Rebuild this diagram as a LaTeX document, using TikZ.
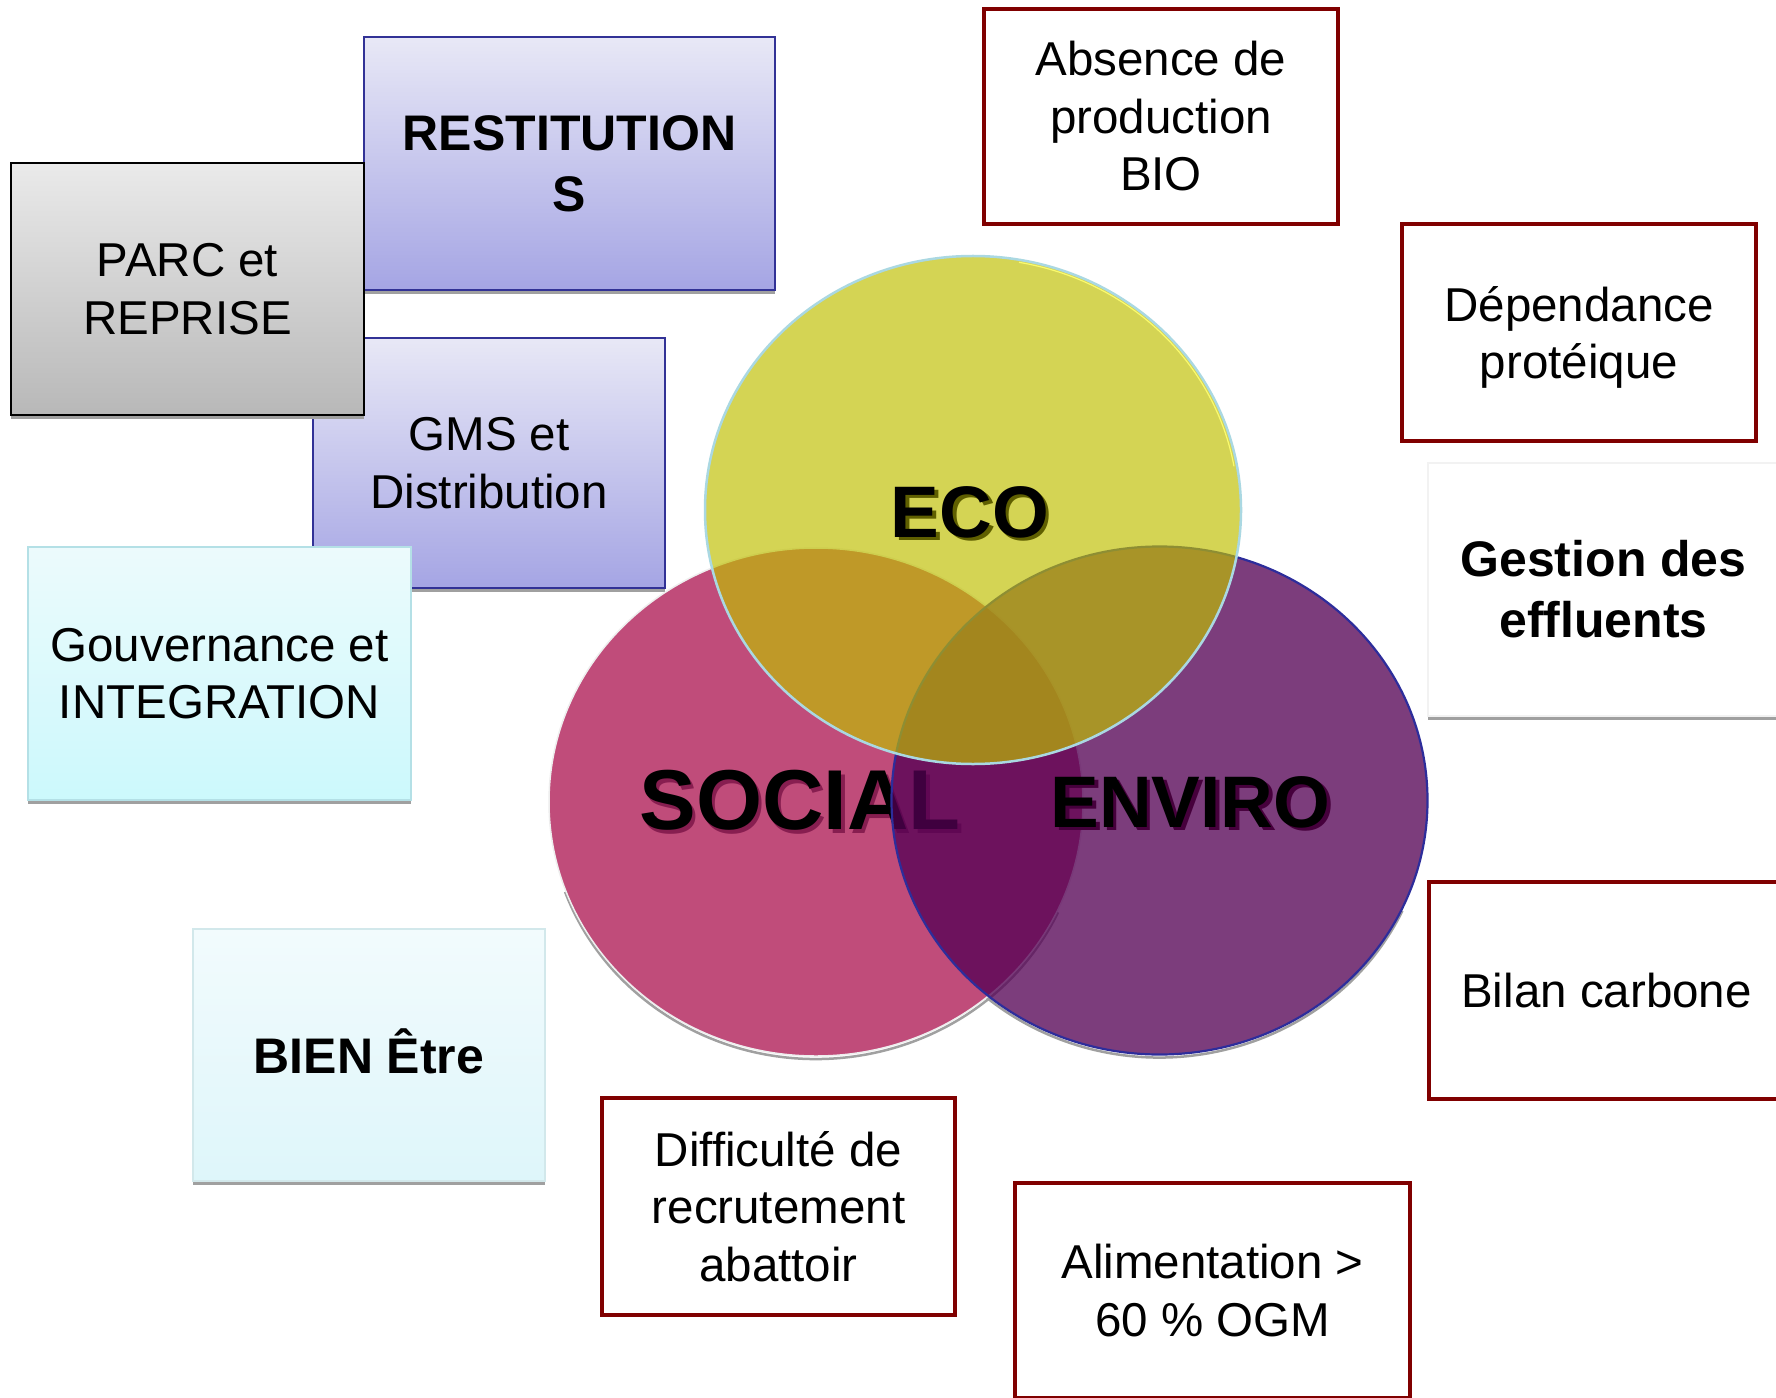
\documentclass[tikz,border=0pt]{standalone}
\usepackage{fontspec}
\setmainfont{Liberation Sans}
\usetikzlibrary{shapes.geometric,shadows}
\definecolor{socialc}{RGB}{192,76,122}
\definecolor{enviroc}{RGB}{84,0,84}
\definecolor{ecoc}{RGB}{191,191,0}
\definecolor{darkred}{RGB}{128,0,0}
\definecolor{bluebord}{RGB}{50,50,150}
\definecolor{bluetop}{RGB}{232,232,246}
\definecolor{bluebot}{RGB}{165,165,228}
\definecolor{greytop}{RGB}{234,234,234}
\definecolor{greybot}{RGB}{184,184,184}
\definecolor{cyantop}{RGB}{236,250,252}
\definecolor{cyanbot}{RGB}{204,249,252}
\definecolor{cyanbord}{RGB}{180,224,230}
\definecolor{palebord}{RGB}{210,232,235}
\definecolor{paletop}{RGB}{242,251,253}
\definecolor{palebot}{RGB}{222,246,250}
\definecolor{shadowgrey}{RGB}{160,160,160}
\definecolor{ecoline}{RGB}{170,216,226}
\definecolor{ecoglow}{RGB}{250,250,110}
\definecolor{enviroline}{RGB}{45,45,155}
\definecolor{socialline}{RGB}{238,238,238}
\definecolor{ecoshad}{RGB}{95,95,0}
\definecolor{socialshad}{RGB}{135,30,80}
\definecolor{enviroshad}{RGB}{70,0,60}
\begin{document}
\begin{tikzpicture}[x=1bp,y=-1bp,
  every node/.style={inner sep=0pt, outer sep=0pt},
  txt/.style={align=center, font=\fontsize{47.5bp}{57.5bp}\selectfont},
  btxt/.style={align=center, font=\fontsize{50bp}{61bp}\selectfont\bfseries},
  boxshadow/.style={drop shadow={shadow xshift=0bp, shadow yshift=-4bp, fill=shadowgrey, opacity=1}},
  bluebox/.style={rectangle, draw=bluebord, line width=2bp, top color=bluetop, bottom color=bluebot, boxshadow},
  greybox/.style={rectangle, draw=black, line width=2.5bp, top color=greytop, bottom color=greybot, boxshadow},
  cyanbox/.style={rectangle, draw=cyanbord, line width=2bp, top color=cyantop, bottom color=cyanbot, boxshadow},
  palebox/.style={rectangle, draw=palebord, line width=2bp, top color=paletop, bottom color=palebot, boxshadow},
  redbox/.style={rectangle, draw=darkred, line width=4.5bp, fill=white},
  whitebox/.style={rectangle, draw={rgb,255:red,242;green,242;blue,242}, line width=1.5bp, fill=white, boxshadow},
  venn/.style={ellipse, minimum width=534bp, minimum height=508bp},
  circshadow/.style={draw=shadowgrey, line width=2.5bp},
  biglbl/.style={anchor=base, font=\fontsize{73bp}{73bp}\selectfont\bfseries},
  sociallbl/.style={anchor=base, font=\fontsize{85bp}{85bp}\selectfont\bfseries},
]
\clip (0,0) rectangle (1776,1398);
\fill[white] (0,0) rectangle (1776,1398);

% left cluster of boxes
\node[bluebox, minimum width=411bp, minimum height=253bp, btxt] (restit) at (569.5,163.5) {RESTITUTION\\S};
\node[bluebox, minimum width=352bp, minimum height=250bp, txt] (gms) at (489,463) {GMS et\\Distribution};
\node[greybox, minimum width=353bp, minimum height=252bp, txt] (parc) at (187.5,289) {PARC et\\REPRISE};
\node[cyanbox, minimum width=383bp, minimum height=253bp, txt] (gouv) at (219.5,673.5) {Gouvernance et\\INTEGRATION};
\node[palebox, minimum width=352bp, minimum height=252bp, btxt, text height=36bp, text depth=0bp] (bien) at (369,1055) {BIEN Être};

% circle shadows
\draw[circshadow] (816,805) ++(25:267 and 254) arc[start angle=25, end angle=160, x radius=267, y radius=254];
\draw[circshadow] (1159.5,803.5) ++(25:268 and 254) arc[start angle=25, end angle=155, x radius=268, y radius=254];

% SOCIAL
\node[venn, fill=socialc, draw=socialline, line width=1.5bp] (social) at (816,802) {};
\node[sociallbl, text=socialshad] (socialS) at (803.5,833) {SOCIAL};
\node[sociallbl] (socialT) at (800,829.5) {SOCIAL};

% ENVIRO
\node[venn, fill=enviroc, fill opacity=0.76, draw=enviroline, line width=2.2bp, minimum width=536bp] (enviro) at (1159.5,800.5) {};
\node[biglbl, text=enviroshad] (enviroS) at (1194,830.5) {ENVIRO};
\node[biglbl] (enviroT) at (1190.5,827) {ENVIRO};

% ECO
\node[venn, fill=ecoc, fill opacity=0.67, draw=ecoline, line width=2.5bp, minimum width=536bp] (eco) at (973,510) {};
\draw[ecoglow, line width=1.2bp] (973,510) ++(-80:265 and 251.5) arc[start angle=-80, end angle=-10, x radius=265, y radius=251.5];
\node[biglbl, text=ecoshad] (ecoS) at (973.5,540.5) {ECO};
\node[biglbl] (ecoT) at (970,537) {ECO};

% right / bottom boxes
\node[redbox, minimum width=354bp, minimum height=215bp, txt] (absence) at (1161,116.5) {Absence de\\production\\BIO};
\node[redbox, minimum width=354bp, minimum height=217bp, txt, text depth=0bp] (depend) at (1579,332.5) {Dépendance\\protéique};
\node[whitebox, minimum width=351bp, minimum height=253bp, btxt] (gestion) at (1603.5,589.5) {Gestion des\\effluents};
\node[redbox, minimum width=355bp, minimum height=217bp, txt] (bilan) at (1606.5,990.5) {Bilan carbone};
\node[redbox, minimum width=353bp, minimum height=217bp, txt] (diff) at (778.5,1206.5) {Difficulté de\\recrutement\\abattoir};
\node[redbox, minimum width=395bp, minimum height=215bp, txt] (alim) at (1212.5,1290.5) {Alimentation >\\60 \% OGM};
\end{tikzpicture}
\end{document}
